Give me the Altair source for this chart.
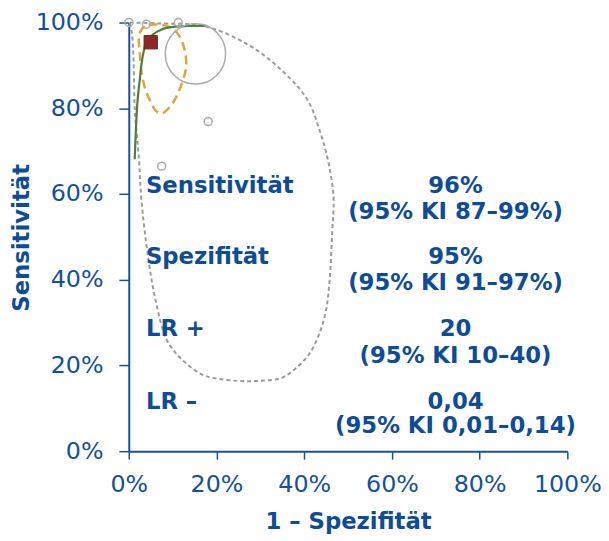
import altair as alt
import pandas as pd

# ---- data (percent units) ----
# prediction region (gray dashed), closed contour
pred_x = [0.2, 6.8, 17.4, 27.1, 34.5, 40.6, 43.6, 45.6, 46.7, 46.4, 45.8, 45.0, 43.4, 41.1,
          37.9, 34.8, 29.3, 24.8, 19.2, 16.5, 12.0, 8.6, 6.1, 4.5, 2.9, 2.3, 1.4, 1.1, 0.7, 0.2]
pred_y = [100.0, 99.8, 99.1, 94.9, 89.2, 82.2, 74.6, 67.0, 59.1, 51.5, 39.9, 33.0, 27.3, 22.6,
          19.2, 17.1, 16.4, 16.4, 17.1, 18.0, 21.5, 26.1, 35.3, 44.6, 58.4, 68.4, 79.2, 90.8, 97.7, 100.0]

# confidence region (orange dashed), closed contour
conf_x = [4.5, 6.8, 9.5, 11.3, 12.6, 13.1, 12.9, 12.0, 10.6, 9.0, 7.5, 6.1, 5.0, 3.8, 2.9, 2.5, 2.3, 2.9, 4.5]
conf_y = [99.5, 99.5, 98.9, 97.2, 94.2, 90.8, 88.5, 85.5, 82.2, 79.9, 78.8, 79.5, 81.5, 84.3, 88.5, 93.1, 96.3, 98.4, 99.5]

# SROC curve (green)
sroc_x = [1.35, 1.6, 1.9, 2.5, 2.9, 3.6, 4.5, 5.9, 7.5, 10.2, 13.5, 17.6]
sroc_y = [68.1, 74.6, 80.4, 86.6, 90.3, 94.2, 96.1, 97.5, 98.4, 99.0, 99.2, 99.3]

# individual studies (gray circles): 1-spec, sens, weight
study_x = [0.0, 4.0, 11.3, 15.2, 18.1, 7.5]
study_y = [100.0, 99.6, 100.0, 92.7, 76.9, 66.5]
study_w = [64, 64, 64, 3721, 64, 64]

# summary point
summary_x = [5.0]
summary_y = [95.4]

# annotations
row_labels = ["Sensitivität", "Spezifität", "LR +", "LR –"]
row_values = ["96%", "95%", "20", "0,04"]
row_cis = ["(95% KI 87–99%)", "(95% KI 91–97%)", "(95% KI 10–40)", "(95% KI 0,01–0,14)"]
row_y = [61.9, 45.3, 28.4, 11.5]
ci_y = [55.7, 39.3, 22.2, 5.8]
label_x = 3.9
value_x = 74.5

ticks = [0, 20, 40, 60, 80, 100]

BLUE = "#0E4C96"
AXIS_BLUE = "#1B4F99"

pred = pd.DataFrame({"x": pred_x, "y": pred_y, "i": range(len(pred_x))})
conf = pd.DataFrame({"x": conf_x, "y": conf_y, "i": range(len(conf_x))})
sroc = pd.DataFrame({"x": sroc_x, "y": sroc_y, "i": range(len(sroc_x))})
studies = pd.DataFrame({"x": study_x, "y": study_y, "w": study_w})
summary = pd.DataFrame({"x": summary_x, "y": summary_y})
labels_df = pd.DataFrame({"x": [label_x] * 4, "y": row_y, "t": row_labels})
values_df = pd.DataFrame({"x": [value_x] * 4, "y": row_y, "t": row_values})
cis_df = pd.DataFrame({"x": [value_x] * 4, "y": ci_y, "t": row_cis})

xscale = alt.Scale(domain=[0, 100], nice=False, zero=True)
yscale = alt.Scale(domain=[0, 100], nice=False, zero=True)

axis_style = dict(
    domainColor=AXIS_BLUE, domainWidth=2, tickColor=AXIS_BLUE, tickWidth=1.5,
    labelFont="DejaVu Sans", labelFontSize=24, labelColor="#13509B",
    titleFont="DejaVu Sans", titleFontSize=23, titleColor=BLUE, titleFontWeight="bold",
    grid=False, values=ticks, labelExpr="datum.value + '%'",
    labelFlush=False, labelOverlap=False,
)

xaxis = alt.Axis(title="1 – Spezifität", tickSize=8, labelPadding=14, titleY=78,
                 titleBaseline="alphabetic", **axis_style)
yaxis = alt.Axis(title="Sensitivität", tickSize=10, labelPadding=16, titleX=-108, titleY=217,
                 titleBaseline="middle", titleAngle=-90, **axis_style)

X = alt.X("x:Q", scale=xscale, axis=xaxis)
Y = alt.Y("y:Q", scale=yscale, axis=yaxis)
Xn = alt.X("x:Q", scale=xscale)
Yn = alt.Y("y:Q", scale=yscale)

pred_layer = alt.Chart(pred).mark_line(color="#9A9A9A", strokeWidth=2, strokeDash=[4, 3],
                                       interpolate="catmull-rom").encode(
    x=X, y=Y, order="i:Q")
conf_layer = alt.Chart(conf).mark_line(color="#DDA53A", strokeWidth=2.5, strokeDash=[9, 5],
                                       interpolate="catmull-rom").encode(
    x=Xn, y=Yn, order="i:Q")
sroc_layer = alt.Chart(sroc).mark_line(color="#4F7D3A", strokeWidth=2.2,
                                       interpolate="monotone").encode(
    x=Xn, y=Yn, order="i:Q")
study_layer = alt.Chart(studies).mark_point(shape="circle", filled=False, color="#AAAAAA",
                                            strokeWidth=1.5, opacity=1).encode(
    x=Xn, y=Yn, size=alt.Size("w:Q", scale=None, legend=None))
summary_layer = alt.Chart(summary).mark_square(size=180, color="#8E2727", stroke="#6E1C1C",
                                               strokeWidth=1, opacity=1).encode(x=Xn, y=Yn)

txt_common = dict(font="DejaVu Sans", fontSize=23, fontWeight="bold", color=BLUE, baseline="middle")
label_layer = alt.Chart(labels_df).mark_text(align="left", **txt_common).encode(x=Xn, y=Yn, text="t:N")
value_layer = alt.Chart(values_df).mark_text(align="center", **txt_common).encode(x=Xn, y=Yn, text="t:N")
ci_layer = alt.Chart(cis_df).mark_text(align="center", **txt_common).encode(x=Xn, y=Yn, text="t:N")

chart = alt.layer(
    pred_layer, conf_layer, sroc_layer, study_layer, summary_layer,
    label_layer, value_layer, ci_layer
).properties(
    width=443, height=433,
    autosize=alt.AutoSizeParams(type="none"),
    padding={"left": 122, "top": 12, "right": 34, "bottom": 86},
    background="white",
).configure_view(stroke=None)

chart.save("out.html", embed_options={"renderer": "svg", "actions": False})
